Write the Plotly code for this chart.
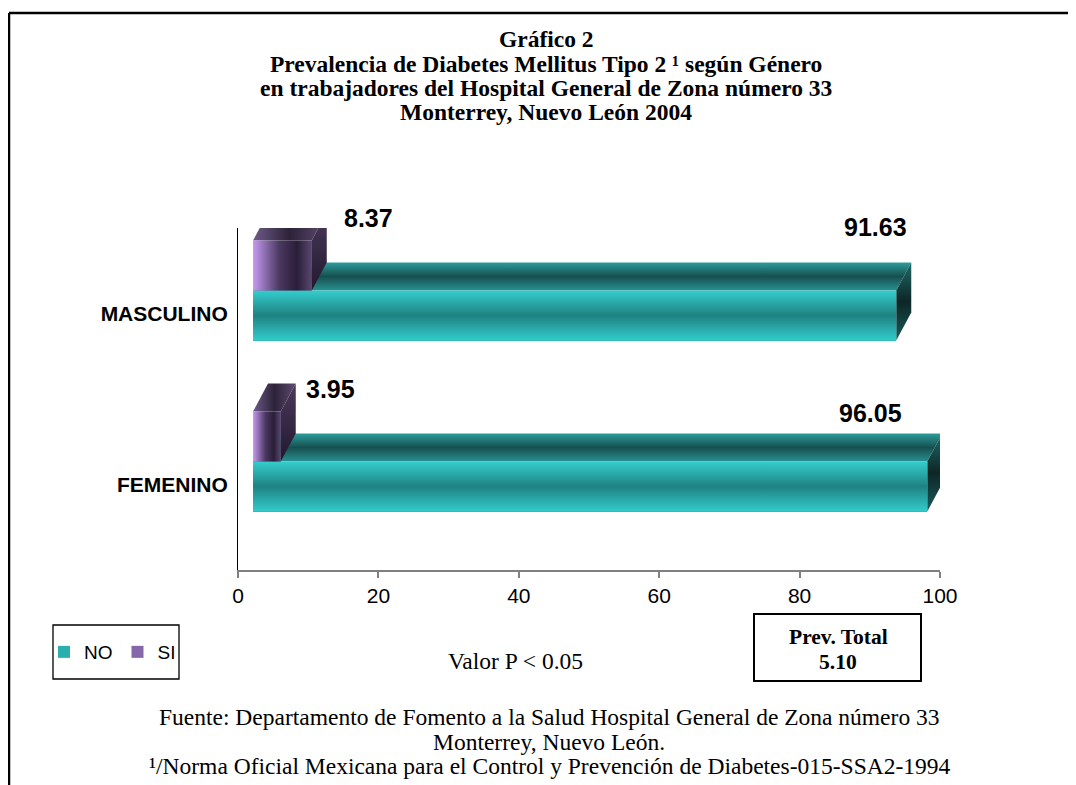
import plotly.graph_objects as go

# ---------------- data ----------------
categories = ["FEMENINO", "MASCULINO"]
no_values = [96.05, 91.63]
si_values = [3.95, 8.37]
series_names = ["NO", "SI"]
x_ticks = [0, 20, 40, 60, 80, 100]
title_lines = [
    "Gráfico 2",
    "Prevalencia de Diabetes Mellitus Tipo 2 ¹ según Género",
    "en trabajadores del Hospital General de Zona número 33",
    "Monterrey, Nuevo León 2004",
]
footer_lines = [
    "Fuente: Departamento de Fomento a la Salud Hospital General de Zona número 33",
    "Monterrey, Nuevo León.",
    "¹/Norma Oficial Mexicana para el Control y Prevención de Diabetes-015-SSA2-1994",
]
p_value_text = "Valor P < 0.05"
prev_total_label = "Prev. Total"
prev_total_value = "5.10"

# ---------------- layout / style ----------------
OFF = 8                      # page body margin of the html page
W, H = 1076 - OFF, 785 - OFF
PLOT_X0, PLOT_X1 = 238, 940  # plot area in screen pixels
PLOT_Y0, PLOT_Y1 = 228, 570
L, T = PLOT_X0 - OFF, PLOT_Y0 - OFF
R, B = W - (PLOT_X1 - OFF), H - (PLOT_Y1 - OFF)
PW, PH = W - L - R, H - T - B
SERIF = "Liberation Serif, Times New Roman, serif"
SANS = "Liberation Sans, Arial, sans-serif"

# 3-D look (in axis units)
X0 = 2.137         # front face starts 15 px right of the wall
DX = 2.137         # depth shift in x (15 px)
DY = 0.164         # depth shift in y (28 px)
THICK = 0.2924     # bar thickness
LOW = -0.158       # NO bar bottom relative to category centre

# label pixel nudges, order matches data (FEMENINO, MASCULINO)
si_label_shift = [(8, 23), (15, 23)]
no_label_shift = [(-23, 20), (13, 35)]
LABEL_SIZE = 25

grad = {
    "NO": {
        "front": ("vertical", [[0, "#33CCCC"], [0.5, "#1F8282"], [1, "#35CDCD"]]),
        "top": ("vertical", [[0, "#2A9090"], [0.5, "#164F4F"], [1, "#2E9C9C"]]),
        "side": ("vertical", [[0, "#1A5A5A"], [0.5, "#0E2626"], [1, "#1F6A6A"]]),
        "legend": "#2AAEAE",
    },
    "SI": {
        "front": ("horizontal", [[0, "#C69AF2"], [0.45, "#4A3860"], [0.75, "#2A1E38"], [1, "#5A4870"]]),
        "top": ("horizontal", [[0, "#6E5A88"], [0.5, "#2C2238"], [1, "#5E4C72"]]),
        "side": ("vertical", [[0, "#22182E"], [1, "#4A3A5A"]]),
        "legend": "#8866AA",
    },
}


def px_x(px):
    return (px - OFF - L) / PW


def px_y(py):
    return (H - B - (py - OFF)) / PH


fig = go.Figure()

centers = [i + 0.5 for i in range(len(categories))]

# legend / data bars (front faces)
for name, vals, off in (("NO", no_values, LOW + THICK / 2), ("SI", si_values, LOW + THICK * 1.5)):
    fig.add_trace(go.Bar(
        name=name, orientation="h",
        y=[c + off for c in centers], x=vals, base=X0, width=THICK,
        marker=dict(color=grad[name]["legend"], line=dict(width=0)),
        hoverinfo="x+name",
    ))


def face(xs, ys, style):
    typ, cs = style
    fig.add_trace(go.Scatter(
        x=xs + [xs[0]], y=ys + [ys[0]], mode="lines", fill="toself",
        line=dict(width=0), fillgradient=dict(type=typ, colorscale=cs),
        showlegend=False, hoverinfo="skip",
    ))


for i, c in enumerate(centers):
    for name, v, lvl in (("NO", no_values[i], 0), ("SI", si_values[i], 1)):
        yb = c + LOW + THICK * lvl
        yt = yb + THICK
        xa, xb = X0, X0 + v
        g = grad[name]
        face([xa, xb, xb + DX, xa + DX], [yt, yt, yt + DY, yt + DY], g["top"])
        face([xb, xb + DX, xb + DX, xb], [yb, yb + DY, yt + DY, yt], g["side"])
        face([xa, xb, xb, xa], [yb, yb, yt, yt], g["front"])

annotations = []
# value labels
for i, c in enumerate(centers):
    yt_no = c + LOW + THICK
    yt_si = yt_no + THICK
    dx, dy = no_label_shift[i]
    annotations.append(dict(
        x=X0 + no_values[i], y=yt_no + DY, xref="x", yref="y",
        text=f"{no_values[i]:.2f}", showarrow=False, xanchor="right", yanchor="middle",
        xshift=dx, yshift=dy, font=dict(family=SANS, size=LABEL_SIZE, color="black", weight="bold"),
    ))
    dx, dy = si_label_shift[i]
    annotations.append(dict(
        x=X0 + si_values[i] + DX, y=yt_si, xref="x", yref="y",
        text=f"{si_values[i]:.2f}", showarrow=False, xanchor="left", yanchor="middle",
        xshift=dx, yshift=dy, font=dict(family=SANS, size=LABEL_SIZE, color="black", weight="bold"),
    ))

# title
for k, line in enumerate(title_lines):
    annotations.append(dict(
        x=px_x(546), y=px_y(39 + 24.5 * k), xref="paper", yref="paper",
        text=line, showarrow=False, xanchor="center", yanchor="middle",
        font=dict(family=SERIF, size=23.5, color="black", weight="bold"),
    ))

# footer
for k, line in enumerate(footer_lines):
    annotations.append(dict(
        x=px_x(549), y=px_y(717 + 24.5 * k), xref="paper", yref="paper",
        text=line, showarrow=False, xanchor="center", yanchor="middle",
        font=dict(family=SERIF, size=23.5, color="black"),
    ))

annotations.append(dict(
    x=px_x(515), y=px_y(661), xref="paper", yref="paper", text=p_value_text,
    showarrow=False, xanchor="center", yanchor="middle",
    font=dict(family=SERIF, size=23.5, color="black"),
))
annotations.append(dict(
    x=px_x(838), y=px_y(637), xref="paper", yref="paper", text=prev_total_label,
    showarrow=False, xanchor="center", yanchor="middle",
    font=dict(family=SERIF, size=21.5, color="black", weight="bold"),
))
annotations.append(dict(
    x=px_x(838), y=px_y(662), xref="paper", yref="paper", text=prev_total_value,
    showarrow=False, xanchor="center", yanchor="middle",
    font=dict(family=SERIF, size=21.5, color="black", weight="bold"),
))

shapes = [
    # outer frame (only top and left visible)
    dict(type="line", xref="paper", yref="paper", x0=px_x(9), x1=px_x(1100),
         y0=px_y(13), y1=px_y(13), line=dict(color="black", width=2.5)),
    dict(type="line", xref="paper", yref="paper", x0=px_x(9), x1=px_x(9),
         y0=px_y(13), y1=px_y(820), line=dict(color="black", width=2.5)),
    # legend box
    dict(type="rect", xref="paper", yref="paper", x0=px_x(53), x1=px_x(179),
         y0=px_y(625), y1=px_y(679), line=dict(color="black", width=1.3), fillcolor="white"),
    # prev total box
    dict(type="rect", xref="paper", yref="paper", x0=px_x(754), x1=px_x(921),
         y0=px_y(614), y1=px_y(681), line=dict(color="black", width=2), fillcolor="white"),
]

fig.update_layout(
    width=W, height=H,
    margin=dict(l=L, r=R, t=T, b=B),
    paper_bgcolor="white", plot_bgcolor="white",
    barmode="overlay", bargap=0,
    showlegend=True,
    legend=dict(
        orientation="h", x=px_x(44), y=px_y(652), xanchor="left", yanchor="middle",
        font=dict(family=SANS, size=19, color="black"), bgcolor="rgba(0,0,0,0)",
        borderwidth=0, traceorder="normal", itemwidth=30,
    ),
    xaxis=dict(
        range=[0, 100], tickvals=x_ticks, ticktext=[str(t) for t in x_ticks],
        showgrid=False, zeroline=False, showline=True, linecolor="#808080", linewidth=2,
        ticks="outside", ticklen=6, tickcolor="#808080", tickwidth=1.5,
        tickfont=dict(family=SANS, size=21, color="black"), fixedrange=True,
    ),
    yaxis=dict(
        range=[0, 2], tickvals=centers, ticktext=categories,
        showgrid=False, zeroline=False, showline=True, linecolor="black", linewidth=1,
        ticks="", ticklabelstandoff=5,
        tickfont=dict(family=SANS, size=21, color="black", weight="bold"), fixedrange=True,
    ),
    yaxis2=dict(
        range=[0, 2], overlaying="y", side="left", tickvals=[0, 1, 2],
        showticklabels=False, ticks="outside", ticklen=6, tickcolor="black",
        showgrid=False, zeroline=False, showline=False, fixedrange=True,
    ),
    annotations=annotations,
    shapes=shapes,
)

fig.write_html("out.html")
